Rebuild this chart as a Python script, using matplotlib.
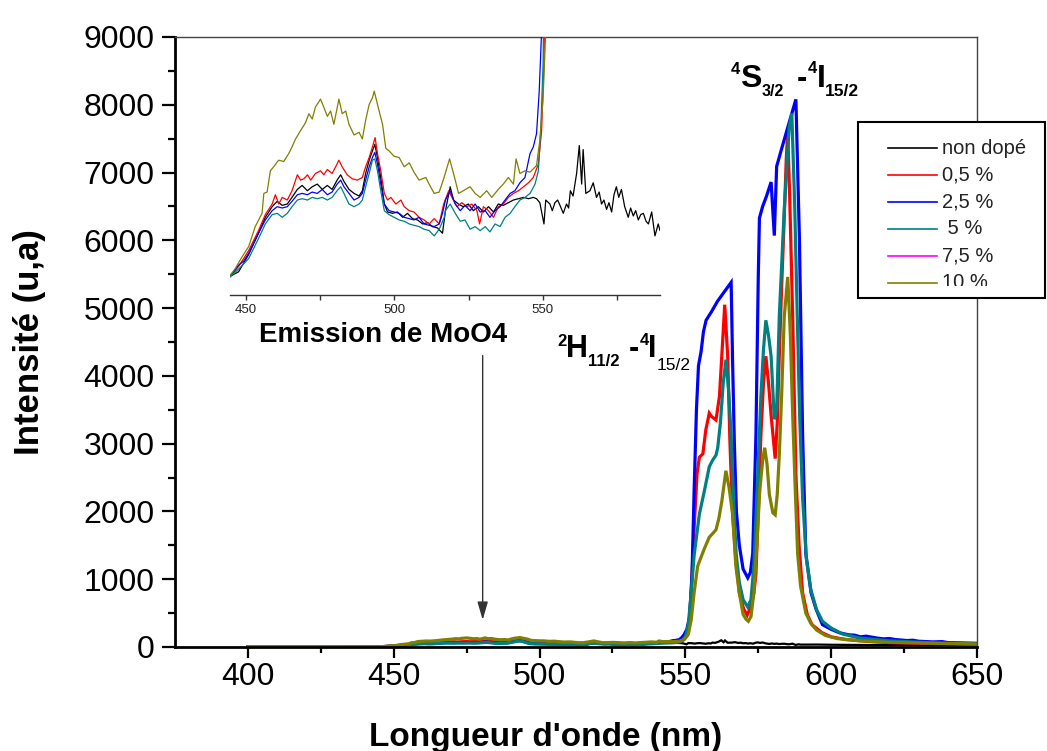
import matplotlib
matplotlib.use("Agg")
import matplotlib.pyplot as plt
from matplotlib.patches import Rectangle
from matplotlib.lines import Line2D

plt.rcParams['font.family'] = ['Liberation Sans', 'DejaVu Sans']
BOLD_FAMILY = ['Liberation Sans', 'DejaVu Sans']

# ---------------------------------------------------------------- data
# (wavelength nm, intensity a.u.) for each Er doping level
spec_undoped = [
    (400, 3), (420, 3), (440, 2), (444.2, 0), (447.5, 4), (450.9, 17), (454.2, 33), (456.5, 45),
    (458.8, 53), (460.5, 57), (462.2, 54), (463.9, 55), (465.5, 60), (467.3, 66), (468.9, 69),
    (470.7, 65), (472.3, 68), (474.0, 70), (475.7, 66), (477.4, 69), (479.0, 66), (480.7, 73),
    (481.9, 77), (483.0, 72), (484.7, 66), (486.4, 63), (488.1, 61), (489.2, 65), (490.3, 78),
    (491.5, 88), (492.6, 95), (493.4, 100), (494.3, 90), (495.4, 75), (496.6, 55), (497.7, 49),
    (499.4, 48), (501.0, 49), (502.8, 45), (504.4, 48), (506.1, 44), (507.8, 43), (509.5, 40),
    (511.2, 41), (512.8, 38), (514.5, 37), (516.2, 33), (517.2, 50), (518.8, 68), (519.9, 58),
    (521.6, 55), (523.2, 53), (524.9, 55), (526.6, 50), (528.3, 53), (530.0, 49), (531.7, 53),
    (533.4, 49), (535.0, 55), (536.7, 54), (538.4, 56), (540.1, 58), (541.8, 59), (543.5, 60),
    (545.2, 59), (546.8, 60), (547.9, 59), (549.0, 56), (550.4, 40), (551.0, 58), (552.4, 55),
    (553.2, 50), (554.1, 56), (555.0, 58), (555.8, 54), (556.9, 48), (558.0, 55), (558.7, 52),
    (559.3, 65), (560.2, 61), (561.4, 78), (562.3, 99), (563.1, 70), (563.6, 96), (564.5, 63),
    (565.9, 65), (567.0, 71), (568.1, 60), (569.0, 64), (569.8, 55), (570.6, 58), (571.5, 51),
    (572.3, 56), (573.2, 49), (574.0, 62), (574.8, 68), (575.6, 60), (576.5, 66), (577.6, 53),
    (578.8, 45), (579.6, 52), (580.5, 46), (581.3, 50), (582.2, 43), (583.0, 47), (583.9, 48),
    (584.8, 42), (585.6, 40), (586.7, 49), (587.8, 31), (588.9, 40), (589.5, 35),
    (595, 36), (600, 33), (610, 30), (620, 30), (635, 28), (650, 25),
]

spec_05 = [
    (400, 3), (420, 3), (440, 2), (444.5, 0), (447.5, 8), (450.9, 20), (454.2, 35), (456.5, 47),
    (458.8, 55), (459.9, 62), (461.0, 55), (462.2, 60), (463.9, 58), (465.5, 65), (467.3, 77),
    (468.4, 73), (469.5, 74), (470.7, 77), (471.8, 73), (473.4, 78), (475.1, 80), (476.2, 77),
    (477.4, 81), (479.0, 78), (480.2, 83), (481.3, 88), (482.4, 83), (484.1, 77), (485.8, 74),
    (487.5, 73), (489.2, 75), (490.3, 83), (491.5, 90), (492.6, 98), (493.5, 105), (494.3, 93),
    (495.4, 80), (496.6, 63), (497.7, 58), (498.8, 60), (500.5, 55), (502.2, 58), (503.3, 53),
    (505.0, 50), (506.6, 49), (508.3, 45), (510.0, 43), (511.7, 40), (513.4, 44), (515.1, 40),
    (516.6, 55), (518.3, 65), (519.4, 60), (521.1, 53), (522.7, 56), (524.4, 53), (526.1, 55),
    (527.8, 50), (528.7, 40), (530.0, 53), (531.7, 50), (533.4, 45), (535.0, 53), (536.7, 55),
    (538.4, 60), (540.1, 63), (541.8, 65), (543.5, 68), (545.2, 71), (546.8, 75), (548.5, 85),
    (549.6, 110), (550.4, 160), (551.2, 300), (552.0, 800), (553.0, 1750), (554.0, 2550),
    (554.8, 2800), (556.0, 2850), (557.0, 3200), (558.2, 3450), (559.0, 3400), (560.5, 3350),
    (561.7, 3700), (562.5, 4300), (563.5, 5050), (564.5, 4300), (565.3, 3000), (566.2, 1960),
    (567.3, 1300), (568.5, 800), (570.0, 560), (571.2, 470), (572.5, 600), (573.5, 800),
    (574.2, 1080), (575.0, 2000), (575.9, 3130), (576.8, 3900), (577.6, 4290), (578.5, 3900),
    (579.4, 3420), (580.8, 2780), (581.5, 3300), (582.2, 4290), (583.0, 5300), (583.9, 6330),
    (584.6, 7200), (585.1, 7600), (585.8, 6600), (586.8, 4870), (587.9, 2540), (589.0, 1500),
    (590.2, 800), (591.8, 480), (593.4, 330), (596.9, 210), (600, 150), (605, 110), (612, 85),
    (620, 65), (630, 55), (640, 48), (650, 40),
]

spec_25 = [
    (400, 3), (420, 3), (440, 2), (444.5, 0), (447.5, 9), (449.2, 12), (450.9, 18), (454.2, 33),
    (456.5, 43), (458.8, 50), (460.5, 53), (462.2, 52), (463.9, 53), (465.5, 57), (467.3, 62),
    (468.9, 63), (470.7, 62), (472.3, 64), (474.0, 63), (475.7, 66), (477.4, 62), (479.0, 64),
    (480.7, 70), (481.9, 73), (483.0, 68), (484.7, 63), (486.4, 58), (488.1, 60), (489.2, 63),
    (490.3, 73), (491.5, 83), (492.6, 90), (493.4, 94), (494.3, 85), (495.4, 70), (496.6, 55),
    (498.2, 50), (499.9, 49), (501.6, 48), (503.3, 45), (505.0, 44), (506.6, 43), (508.3, 45),
    (510.0, 40), (511.7, 39), (513.4, 38), (515.1, 40), (516.2, 48), (517.2, 58), (518.8, 65),
    (520.5, 55), (522.2, 50), (523.8, 54), (525.5, 50), (527.2, 55), (528.9, 49), (530.6, 50),
    (532.2, 45), (533.9, 50), (535.6, 53), (537.3, 58), (539.0, 63), (540.6, 65), (542.3, 71),
    (544.0, 75), (545.7, 93), (546.8, 98), (547.9, 108), (548.8, 140), (549.6, 185),
    (550.5, 260), (551.5, 450), (552.3, 1100), (553.0, 2300), (553.8, 3500), (554.5, 4150),
    (555.4, 4360), (556.2, 4650), (557.1, 4820), (559.0, 4950), (561.0, 5100), (563.0, 5220),
    (565.7, 5380), (566.2, 4200), (566.8, 3000), (567.5, 2000), (568.5, 1500), (569.8, 1150),
    (571.4, 1020), (572.3, 1100), (573.1, 1380), (574.2, 3130), (575.0, 5460), (575.4, 6330),
    (576.5, 6500), (577.8, 6650), (579.4, 6860), (580.5, 6070), (581.3, 7090), (583.0, 7350),
    (585.0, 7650), (587.9, 8080), (589.1, 6040), (590.2, 3130), (591.3, 1380), (593.1, 800),
    (594.8, 560), (597, 330), (600, 260), (602.8, 210), (606, 180), (608, 175), (610, 150),
    (612, 160), (614, 145), (616, 130), (618, 120), (620, 125), (622, 110), (626, 95),
    (628, 100), (630, 85), (635, 75), (638, 80), (640, 65), (645, 60), (650, 55),
]

spec_5 = [
    (400, 3), (420, 3), (440, 2), (444.5, 0), (447.5, 6), (450.9, 14), (454.2, 29), (456.5, 40),
    (458.8, 47), (460.5, 48), (462.2, 45), (463.9, 48), (465.5, 53), (467.3, 58), (468.9, 59),
    (470.7, 58), (472.3, 60), (474.0, 59), (475.7, 60), (477.4, 58), (479.0, 60), (480.7, 65),
    (481.9, 68), (483.0, 63), (484.7, 55), (486.4, 53), (488.1, 55), (489.2, 58), (490.3, 68),
    (491.5, 78), (492.6, 88), (493.4, 89), (494.3, 80), (495.4, 65), (496.6, 50), (498.2, 47),
    (499.9, 45), (501.6, 43), (503.3, 42), (505.0, 40), (506.6, 39), (508.3, 38), (510.0, 36),
    (511.7, 35), (513.4, 31), (515.1, 36), (516.8, 45), (517.2, 50), (518.8, 55), (520.5, 48),
    (522.2, 42), (523.8, 43), (525.5, 36), (527.2, 38), (528.9, 35), (530.6, 38), (532.2, 34),
    (533.9, 40), (535.6, 38), (537.3, 45), (539.0, 48), (540.6, 53), (542.3, 58), (544.0, 60),
    (545.7, 63), (547.4, 70), (548.5, 80), (549.3, 110), (550.1, 160), (551.0, 330),
    (552.0, 800), (553.0, 1350), (554.8, 1960), (556.5, 2300), (558.2, 2660), (559.4, 2760),
    (560.5, 2830), (561.1, 2940), (562.0, 3300), (563.0, 3900), (563.9, 4240), (564.8, 3800),
    (565.7, 3130), (566.5, 2200), (567.4, 1380), (568.5, 950), (569.8, 700), (571.4, 590),
    (572.5, 700), (573.5, 1200), (574.5, 2200), (575.9, 3700), (576.8, 4400), (577.6, 4820),
    (578.5, 4600), (579.4, 4290), (580.5, 3360), (581.3, 3500), (582.2, 4870), (583.9, 6450),
    (585.6, 7670), (586.5, 7870), (587.5, 6500), (588.3, 5000), (589.2, 3400), (590.2, 2200),
    (591.5, 1300), (593, 850), (595, 550), (597, 380), (600, 280), (604, 190), (610, 130),
    (620, 90), (630, 70), (640, 55), (650, 45),
]

spec_10 = [
    (400, 5), (420, 5), (440, 4), (444.7, 1.5), (446.4, 6.5), (448.6, 15), (450.9, 23),
    (453.1, 38), (455.4, 48), (456.0, 63), (457.1, 64), (458.2, 80), (459.3, 83), (461.0, 88),
    (462.7, 87), (464.4, 93), (465.5, 98), (466.7, 104), (468.3, 110), (470.0, 116),
    (471.2, 123), (472.3, 119), (473.4, 128), (475.1, 134), (476.2, 128), (477.4, 121),
    (478.5, 125), (479.6, 115), (481.3, 134), (482.4, 123), (483.6, 125), (484.7, 115),
    (486.4, 107), (488.1, 109), (489.2, 104), (490.3, 118), (491.5, 130), (492.6, 135),
    (493.2, 140), (494.3, 130), (496.0, 115), (497.1, 97), (498.2, 95), (499.9, 91),
    (501.6, 90), (503.3, 83), (505.0, 86), (506.6, 79), (508.3, 73), (510.6, 75), (511.7, 70),
    (513.4, 63), (515.1, 64), (516.6, 74), (518.6, 89), (520.5, 73), (521.6, 63), (523.2, 65),
    (525.5, 68), (527.2, 63), (528.9, 60), (531.1, 65), (532.8, 60), (535.0, 66), (536.7, 70),
    (538.4, 75), (540.1, 70), (541.0, 89), (542.3, 78), (544.0, 80), (545.7, 79), (547.9, 84),
    (549.0, 103), (550.1, 135), (551.0, 185), (552.0, 400), (553.0, 800), (554.2, 1190),
    (554.8, 1260), (556.5, 1450), (558.2, 1620), (559.5, 1680), (560.5, 1730), (561.5, 1900),
    (562.5, 2150), (563.9, 2600), (565.0, 2350), (566.2, 1960), (567.3, 1200), (568.5, 800),
    (569.8, 480), (570.8, 410), (571.6, 380), (572.5, 450), (573.5, 800), (574.5, 1500),
    (575.5, 2300), (576.5, 2750), (577.2, 2940), (578.0, 2700), (578.8, 2250), (580.0, 1980),
    (580.8, 1950), (581.5, 2250), (582.2, 2830), (583.0, 3700), (583.9, 4870), (585.1, 5460),
    (586.0, 4600), (586.8, 3420), (587.7, 2300), (588.5, 1380), (589.5, 900), (591.3, 500),
    (593, 350), (595, 250), (598, 170), (602, 125), (610, 90), (620, 70), (635, 55), (650, 45),
]

series_labels = ["non dopé", "0,5 %", "2,5 %", " 5 %", "7,5 %", "10 %"]
series_colors = ["#000000", "#ff0000", "#0000ff", "#008080", "#ff00ff", "#808000"]
series_data = [spec_undoped, spec_05, spec_25, spec_5, None, spec_10]

x_major = [400, 450, 500, 550, 600, 650]
x_minor = [425, 475, 525, 575, 625]
y_major = list(range(0, 9001, 1000))
y_minor = list(range(500, 9000, 1000))
inset_major = [450, 500, 550]
inset_minor = [475, 525, 575]

# ---------------------------------------------------------------- layout
W, H = 1047, 751
fig = plt.figure(figsize=(W / 100, H / 100), dpi=100)
fig.patch.set_facecolor("white")


def fbox(left, top, right, bottom):
    return [left / W, 1 - bottom / H, (right - left) / W, (bottom - top) / H]


ax = fig.add_axes(fbox(175, 37, 977, 647))
ax.set_zorder(0)

for data, color in zip(series_data, series_colors):
    if data is None:
        continue
    wl, inten = zip(*data)
    lw = 1.6 if color == "#000000" else 2.3
    ax.plot(wl, inten, color=color, lw=lw, solid_joinstyle="miter")

ax.set_xlim(375, 650)
ax.set_ylim(0, 9000)
ax.set_xticks(x_major)
ax.set_xticks(x_minor, minor=True)
ax.set_yticks(y_major)
ax.set_yticks(y_minor, minor=True)
ax.tick_params(axis="both", which="both", direction="out", width=1.6, color="black")
ax.tick_params(axis="x", which="major", length=8, pad=3, labelsize=23)
ax.tick_params(axis="x", which="minor", length=4.5)
ax.tick_params(axis="y", which="major", length=9.5, pad=5, labelsize=23)
ax.tick_params(axis="y", which="minor", length=5)
for s in ("left", "bottom"):
    ax.spines[s].set_linewidth(2)
    ax.spines[s].set_color("black")
for s in ("top", "right"):
    ax.spines[s].set_linewidth(1)
    ax.spines[s].set_color("#444444")

ax.annotate("", xy=(480.5, 400), xytext=(480.5, 4300),
            arrowprops=dict(arrowstyle="-|>,head_length=0.55,head_width=0.16",
                            mutation_scale=20, lw=1, color="#333333",
                            shrinkA=0, shrinkB=0))

# ---------------------------------------------------------------- inset
axi = fig.add_axes(fbox(230, 37, 660, 295), facecolor="none")
axi.set_zorder(1)
for data, color in zip(series_data, series_colors):
    if data is None:
        continue
    wl, inten = zip(*data)
    axi.plot(wl, inten, color=color, lw=0.9)
axi.set_xlim(444.6, 589.5)
axi.set_ylim(-13.5, 180.75)
axi.set_xticks(inset_major)
axi.set_xticks(inset_minor, minor=True)
axi.set_yticks([])
for s in ("left", "top", "right"):
    axi.spines[s].set_visible(False)
axi.spines["bottom"].set_color("#333333")
axi.spines["bottom"].set_linewidth(1)
axi.tick_params(axis="x", which="both", direction="out", length=3.5, width=1,
                color="#333333", labelsize=9.5, labelcolor="#222222", pad=3)

# ---------------------------------------------------------------- overlay (labels, legend)
ov = fig.add_axes([0, 0, 1, 1], facecolor="none")
ov.set_zorder(2)
ov.set_xlim(0, W)
ov.set_ylim(H, 0)
ov.set_axis_off()

renderer = fig.canvas.get_renderer()


def place_pieces(x, y, pieces):
    for text, size, dy, weight in pieces:
        t = ov.text(x, y + dy, text, fontsize=size, fontweight=weight,
                    family=BOLD_FAMILY, ha="left", va="baseline", color="black")
        x += t.get_window_extent(renderer).width


place_pieces(731, 87, [("4", 12, -13, "bold"), ("S", 23, 0, "bold"), ("3/2", 11.5, 9.5, "bold")])
place_pieces(797, 87, [("-", 22, 0, "bold"), ("4", 12, -14, "bold"), ("I", 23, 0, "bold"),
                       ("15/2", 12.5, 9.5, "bold")])
place_pieces(557, 357, [("2", 12, -11, "bold"), ("H", 22, 0, "bold"), ("11/2", 12, 9.5, "bold")])
place_pieces(629, 357, [("-", 22, 0, "bold"), ("4", 12, -12, "bold"), ("I", 22, 0, "bold"),
                        ("15/2", 12.5, 12.5, "normal")])

ov.text(259, 342, "Emission de MoO4", fontsize=20, fontweight="bold", family=BOLD_FAMILY,
        ha="left", va="baseline")
ov.text(546, 746, "Longueur d'onde (nm)", fontsize=24, fontweight="bold", family=BOLD_FAMILY,
        ha="center", va="baseline")
ov.text(30, 342, "Intensité (u,a)", fontsize=25, fontweight="bold", family=BOLD_FAMILY,
        ha="center", va="center", rotation=90)

# legend box (partly cut at the bottom)
ov.add_patch(Rectangle((858, 122), 187, 176, facecolor="white", edgecolor="none", zorder=3))
row_y = [148, 175, 202, 229, 256, 283]
for label, color, yy in zip(series_labels, series_colors, row_y):
    ov.add_line(Line2D([888, 937], [yy, yy], color=color, lw=1.2, zorder=4))
    ov.text(942, yy, label, fontsize=14.5, color="#222222", ha="left", va="center", zorder=4)
ov.add_patch(Rectangle((860, 286), 183, 11, facecolor="white", edgecolor="none", zorder=5))
ov.add_patch(Rectangle((858, 122), 187, 176, facecolor="none", edgecolor="black", lw=1.5, zorder=6))

fig.savefig("out.png", dpi=100)
